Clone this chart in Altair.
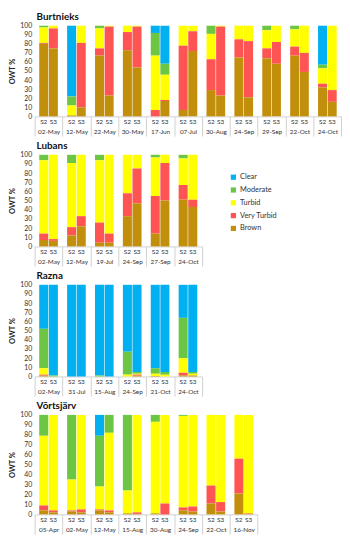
import altair as alt
import pandas as pd

CATS = ["Clear", "Moderate", "Turbid", "Very Turbid", "Brown"]
COLORS = ["#00B0F0", "#6CC644", "#FFFF00", "#FF5454", "#C28F0C"]
STACK_ORD = {"Brown": 0, "Very Turbid": 1, "Turbid": 2, "Moderate": 3, "Clear": 4}
SENSORS = ["S2", "S3"]

# ---------- Burtnieks ----------
BURT_DATES = ["02-May", "12-May", "22-May", "30-May", "17-Jun", "07-Jul",
              "30-Aug", "24-Sep", "29-Sep", "22-Oct", "24-Oct"]
BURT_S2 = {
    "Brown":       [80, 1, 67, 73, 0, 7, 29, 65, 64, 67, 32],
    "Very Turbid": [1, 0, 8, 20, 7, 71, 34, 20, 11, 10, 4],
    "Turbid":      [17, 11, 22, 7, 60, 22, 28, 15, 20, 19, 17],
    "Moderate":    [2, 10, 3, 0, 25, 0, 9, 0, 5, 4, 4],
    "Clear":       [0, 78, 0, 0, 8, 0, 0, 0, 0, 0, 43],
}
BURT_S3 = {
    "Brown":       [75, 10, 23, 54, 17, 72, 23, 21, 58, 49, 16],
    "Very Turbid": [22, 71, 76, 45, 1, 22, 76, 62, 24, 21, 13],
    "Turbid":      [3, 19, 1, 1, 28, 6, 1, 17, 18, 30, 71],
    "Moderate":    [0, 0, 0, 0, 12, 0, 0, 0, 0, 0, 0],
    "Clear":       [0, 0, 0, 0, 42, 0, 0, 0, 0, 0, 0],
}

# ---------- Lubans ----------
LUB_DATES = ["02-May", "12-May", "19-Jul", "24-Sep", "27-Sep", "24-Oct"]
LUB_S2 = {
    "Brown":       [7, 12, 4, 33, 14, 51],
    "Very Turbid": [7, 9, 22, 25, 41, 16],
    "Turbid":      [80, 70, 68, 42, 42, 29],
    "Moderate":    [6, 9, 6, 0, 3, 4],
    "Clear":       [0, 0, 0, 0, 0, 0],
}
LUB_S3 = {
    "Brown":       [6, 22, 4, 47, 50, 43],
    "Very Turbid": [2, 11, 10, 38, 41, 8],
    "Turbid":      [92, 67, 86, 15, 9, 49],
    "Moderate":    [0, 0, 0, 0, 0, 0],
    "Clear":       [0, 0, 0, 0, 0, 0],
}

# ---------- Razna ----------
RAZ_DATES = ["02-May", "31-Jul", "15-Aug", "24-Sep", "21-Oct", "24-Oct"]
RAZ_S2 = {
    "Brown":       [1, 0, 0, 0, 0.5, 1],
    "Very Turbid": [1, 0, 0, 0, 0, 3],
    "Turbid":      [7, 0, 0, 2, 2.5, 16],
    "Moderate":    [43, 0, 1, 25, 6, 44],
    "Clear":       [48, 100, 99, 73, 91, 36],
}
RAZ_S3 = {
    "Brown":       [0, 0, 0, 1, 0, 1],
    "Very Turbid": [0, 0, 0, 1, 0, 0],
    "Turbid":      [0, 0, 0, 1, 2, 2],
    "Moderate":    [1, 0, 0, 2, 3, 2],
    "Clear":       [99, 100, 100, 95, 95, 95],
}

# ---------- Vortsjarv ----------
VOR_DATES = ["05-Apr", "02-May", "12-May", "15-Aug", "30-Aug", "24-Sep", "22-Oct", "16-Nov"]
VOR_S2 = {
    "Brown":       [4, 3, 4, 1, 1, 4, 11, 21],
    "Very Turbid": [5, 1, 1, 0, 0, 3, 18, 35],
    "Turbid":      [70, 31, 23, 23, 92, 92, 71, 44],
    "Moderate":    [21, 65, 51, 76, 7, 1, 0, 0],
    "Clear":       [0, 0, 21, 0, 0, 0, 0, 0],
}
VOR_S3 = {
    "Brown":       [2, 2, 2, 0.5, 0, 3, 3, 0.5],
    "Very Turbid": [2, 3, 2, 1.5, 11, 5, 9.4, 0.5],
    "Turbid":      [96, 95, 78, 98, 89, 92, 87.6, 99],
    "Moderate":    [0, 0, 18, 0, 0, 0, 0, 0],
    "Clear":       [0, 0, 0, 0, 0, 0, 0, 0],
}

FONT = "Lato"
STEP = 28.3
GRAY = "#d0d0d0"


def build_rows(dates, s2, s3):
    rows = []
    for sensor, d in (("S2", s2), ("S3", s3)):
        for cat in CATS:
            for i, dt in enumerate(dates):
                rows.append({"date": dt, "sensor": sensor, "cat": cat,
                             "ord": STACK_ORD[cat], "value": d[cat][i]})
    return pd.DataFrame(rows)


def panel(title, dates, s2, s3, h):
    df = build_rows(dates, s2, s3)
    lab = pd.DataFrame([{"date": d, "sensor": s} for d in dates for s in SENSORS])
    xenc = alt.X("date:N", sort=dates,
                 scale=alt.Scale(paddingInner=0, paddingOuter=0),
                 axis=alt.Axis(title=None, tickBand="extent", tickSize=20,
                               tickColor=GRAY, domainColor=GRAY, labelPadding=-8,
                               labelFontSize=6.5, labelAngle=0, labelColor="#333333",
                               labelFont=FONT))
    xoff = alt.XOffset("sensor:N", sort=SENSORS,
                       scale=alt.Scale(paddingInner=0.06, paddingOuter=0.48))
    bars = alt.Chart(df).mark_bar().encode(
        x=xenc,
        xOffset=xoff,
        y=alt.Y("value:Q", stack="zero",
                scale=alt.Scale(domain=[0, 100], nice=False),
                axis=alt.Axis(title="OWT %", values=list(range(0, 101, 10)), grid=False,
                              ticks=False, domain=False, labelFontSize=7,
                              titleFontSize=7.5, titleFontWeight="bold", labelPadding=3,
                              titlePadding=3, minExtent=0, labelColor="#333333",
                              titleColor="#222222", labelFont=FONT, titleFont=FONT)),
        color=alt.Color("cat:N", scale=alt.Scale(domain=CATS, range=COLORS),
                        legend=alt.Legend(title=None, orient="none", legendX=198,
                                          legendY=150, symbolType="square",
                                          symbolSize=28, symbolStrokeWidth=0,
                                          labelFontSize=7.5, labelFont=FONT,
                                          labelOffset=3, rowPadding=4,
                                          labelColor="#333333")),
        order=alt.Order("ord:Q", sort="ascending"),
    )
    txt = alt.Chart(lab).mark_text(fontSize=6.5, baseline="middle", font=FONT,
                                   color="#333333").encode(
        x=xenc, xOffset=xoff, y=alt.value(h + 6), text="sensor:N")
    return alt.layer(bars, txt).properties(
        width=STEP * len(dates), height=h,
        title=alt.TitleParams(title, anchor="start", frame="group", fontSize=10,
                              font=FONT, fontWeight="bold", offset=0, dx=2,
                              color="#111111"))


chart = alt.vconcat(
    panel("Burtnieks", BURT_DATES, BURT_S2, BURT_S3, 92),
    panel("Lubans", LUB_DATES, LUB_S2, LUB_S3, 93),
    panel("Razna", RAZ_DATES, RAZ_S2, RAZ_S3, 93),
    panel("Võrtsjärv", VOR_DATES, VOR_S2, VOR_S3, 101),
    spacing=4,
).properties(padding=0).configure_view(stroke=None).configure_concat(spacing=4)

chart.save("out.html", embed_options={"renderer": "svg", "actions": False})
